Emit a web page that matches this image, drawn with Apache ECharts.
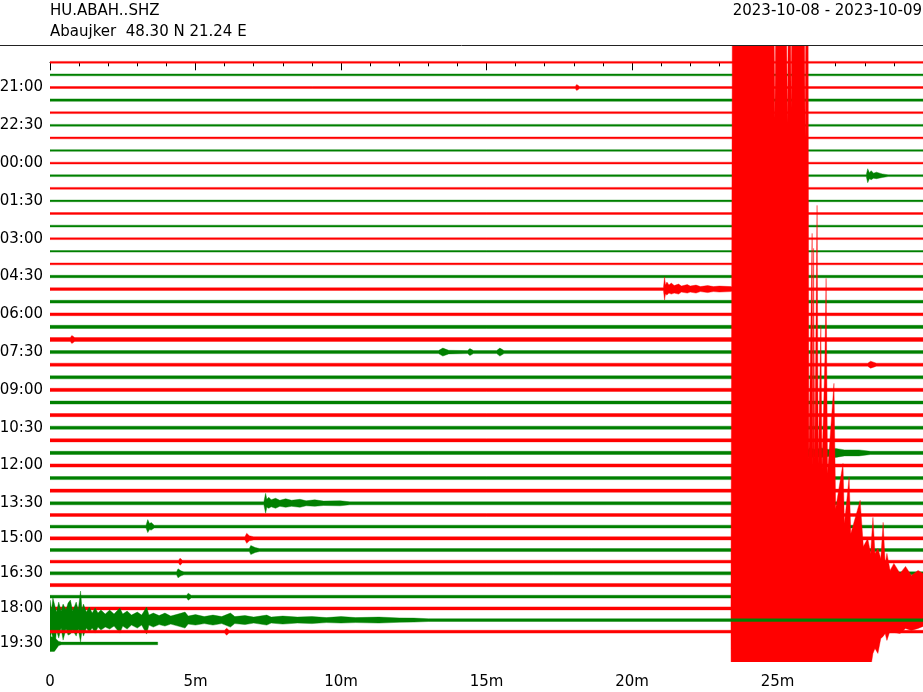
<!DOCTYPE html>
<html>
<head>
<meta charset="utf-8">
<script src="https://cdn.jsdelivr.net/npm/echarts@6/dist/echarts.min.js"></script>
<style>
html,body{margin:0;padding:0;background:#fff;}
#chart{width:923px;height:692px;}
</style>
</head>
<body>
<div id="chart"></div>
<script>
const stationLine1 = 'HU.ABAH..SHZ';
const stationLine2 = 'Abaujker  48.30 N 21.24 E';
const dateRange = '2023-10-08 - 2023-10-09';

// vertical level of each 30-minute trace (in trace-spacing units, as drawn)
const traceLevel = [0,1,2,3,4,5,6,7,8,9,10,11,12,13,14,15,16,17,18,19,20,21,22,23,24,25,26,27,28,29,30,31,32,33,34,35,
  35.93,36.85,37.78,38.71,39.63,40.56,41.49,42.41,43.34,44.27,45.19,46.12];

// background noise half-amplitude of each trace (amplitude units)
const noiseAmp = [0.9,0.9,1.0,1.2,0.9,0.9,0.9,0.8,0.9,0.9,0.9,0.8,0.9,0.9,0.9,0.8,0.9,1.2,1.3,1.4,1.4,1.6,1.9,1.5,
  1.5,1.5,1.6,1.5,1.6,1.5,1.6,1.6,1.6,1.5,1.6,1.5,1.5,1.4,1.6,1.5,1.4,1.5,1.6,1.4,1.5,1.4,1.4,1.3];

// minutes of data in each trace (last trace ends early)
const traceEnd = [30,30,30,30,30,30,30,30,30,30,30,30,30,30,30,30,30,30,30,30,30,30,30,30,
  30,30,30,30,30,30,30,30,30,30,30,30,30,30,30,30,30,30,30,30,30,30,30,3.7];

// y tick labels (which trace carries which time label)
const yTickTrace = [2,5,8,11,14,17,20,23,26,29,32,35,38,41,44,47];
const yTickLabels = ['21:00','22:30','00:00','01:30','03:00','04:30','06:00','07:30','09:00','10:30','12:00','13:30','15:00','16:30','18:00','19:30'];

// x tick labels every 5 minutes
const xTickLabels = ['0','5m','10m','15m','20m','25m',''];

// events: envelope points [minute, upward amplitude, downward amplitude]
const evQuake = [ // trace 44 (18:00) – large earthquake
  [23.40,1.5,1.5],[23.45,620,620],[24.87,620,620],[24.91,490,620],[24.95,620,620],
  [25.30,620,620],[25.34,485,620],[25.38,620,620],[25.44,620,620],[25.47,500,620],[25.50,620,620],
  [25.92,620,620],[25.95,470,620],[25.98,620,620],[26.05,620,620],
  [26.08,150,620],[26.19,375,620],[26.22,140,620],[26.24,360,620],[26.28,150,620],[26.36,403,620],
  [26.40,145,620],[26.49,283,620],[26.53,140,620],[26.63,251,620],[26.67,330,620],[26.72,135,620],
  [26.94,225,620],[27.00,100,620],[27.25,145,620],[27.30,85,620],[27.46,131,620],[27.52,75,620],
  [27.84,108,620],[27.95,62,620],[28.10,70,620],[28.20,55,60],[28.28,91,45],[28.35,55,40],
  [28.45,60,45],[28.55,50,30],[28.63,86,28],[28.70,45,25],[28.76,55,32],[28.87,38,22],
  [29.00,45,24],[29.21,35,25],[29.40,42,20],[29.60,33,22],[29.83,38,20],[30.00,35,18]
];
const evCoda = [ // trace 45 (18:30) – coda of the earthquake
  [0,20,20],[0.05,10,12],[0.10,22,18],[0.17,14,30],[0.22,8,10],[0.30,18,18],[0.38,9,8],[0.45,16,20],
  [0.55,10,9],[0.62,17,15],[0.70,20,14],[0.78,9,10],[0.90,18,16],[0.97,10,9],[1.05,29,22],[1.10,10,10],
  [1.15,16,16],[1.25,8,8],[1.35,13,12],[1.45,7,8],[1.55,12,13],[1.65,7,7],[1.75,10,10],[1.90,6,7],
  [2.05,10,9],[2.20,6,6],[2.40,12,13],[2.50,6,6],[2.65,9,9],[2.80,5,5],[3.00,8,8],[3.15,5,5],
  [3.32,13,14],[3.40,5,5],[3.55,7,7],[3.75,4.5,4.5],[3.95,7,6],[4.15,4,4],[4.40,6,6],[4.64,8,8],
  [4.75,4,4],[5.00,5.5,5],[5.30,3.5,3.5],[5.60,5,5],[5.90,3.5,3.5],[6.20,7,7],[6.35,3.5,3.5],
  [6.70,4.5,4.5],[7.00,3,3],[7.45,5,5],[7.60,3,3],[8.00,4,4],[8.50,3,3],[9.00,3.5,3.5],[9.50,2.5,2.5],
  [10.0,3.5,3],[10.5,2.5,2.5],[11.3,3,3],[12.0,2.2,2.2],[12.5,2,2],[13.0,1.4,1.4]
];
const traceEvents = {
  2:  [[18.05,1.0,1.0],[18.10,3,3],[18.20,1.0,1.0]],
  9:  [[28.05,0.9,0.9],[28.10,7,7],[28.16,3,3],[28.22,5,4],[28.30,2.5,2.5],[28.40,3.5,3],[28.60,1.8,1.8],[28.80,0.9,0.9]],
  18: [[21.08,1.3,1.3],[21.12,12,11],[21.15,4,5],[21.20,7,6],[21.27,4,4],[21.35,6,5],[21.45,3.5,4],[21.60,5,5],
       [21.70,3,3],[21.90,4.5,4],[22.00,3,3],[22.20,4,4],[22.35,2.5,2.5],[22.60,3.5,3.5],[22.80,2.5,2.5],
       [23.00,3,3],[23.40,2.5,2.5],[23.50,1.3,1.3]],
  22: [[0.70,1.9,1.9],[0.75,4,4],[0.85,1.9,1.9]],
  23: [[13.35,1.5,1.5],[13.50,4,4],[13.70,1.8,1.8],[14.35,1.5,1.5],[14.43,3.5,3.5],[14.55,1.5,1.5],
       [15.35,1.5,1.5],[15.46,4,4],[15.60,1.5,1.5]],
  24: [[28.10,1.5,1.5],[28.20,3.5,3.5],[28.40,1.5,1.5]],
  31: [[26.00,1.6,1.6],[26.10,5,5],[26.30,3.5,3.5],[26.50,5,4.5],[26.75,3.5,3.5],[27.00,4.5,4.5],[27.30,3,3],
       [27.80,3,3],[28.20,1.6,1.6]],
  35: [[7.35,1.5,1.5],[7.41,10,10],[7.45,4,4],[7.52,6,5],[7.60,3.5,3.5],[7.75,5,5],[7.90,3,3],[8.10,4.5,4],
       [8.30,3,3],[8.59,4,4],[8.80,2.5,2.5],[9.10,3.5,3],[9.40,2.2,2.2],[9.97,2.5,2.5],[10.3,1.5,1.5]],
  37: [[3.30,1.4,1.4],[3.36,7,6],[3.42,3,3],[3.48,4,3.5],[3.58,1.4,1.4]],
  38: [[6.70,1.6,1.6],[6.76,5,5],[6.85,2.5,2.5],[7.00,1.6,1.6]],
  39: [[6.85,1.5,1.5],[6.90,4.5,4.5],[7.05,2.5,2.5],[7.20,1.5,1.5]],
  40: [[4.42,1.4,1.4],[4.47,3.5,3.5],[4.55,1.4,1.4]],
  41: [[4.35,1.5,1.5],[4.40,4.5,4.5],[4.50,2.5,2.5],[4.60,1.5,1.5]],
  43: [[4.70,1.4,1.4],[4.75,3.5,3.5],[4.85,1.4,1.4]],
  44: evQuake,
  45: evCoda,
  46: [[6.00,1.4,1.4],[6.07,3.5,3.5],[6.15,1.4,1.4]],
  47: [[0,7,8],[0.15,6,8],[0.30,2,2],[0.40,1.3,1.3]]
};

// ---- drawing ----
const traceColors = ['#ff0000', '#008000'];
const ampScale = 1 / 12.6;   // amplitude units per trace spacing
const font = 'DejaVu Sans';

function envelope(i) {
  const n = noiseAmp[i];
  const ev = traceEvents[i] || [];
  const pts = [];
  if (!ev.length || ev[0][0] > 0) pts.push([0, n, n]);
  ev.forEach(p => pts.push(p));
  if (!ev.length || ev[ev.length - 1][0] < traceEnd[i]) pts.push([traceEnd[i], n, n]);
  return pts;
}

const chart = echarts.init(document.getElementById('chart'), null, {renderer: 'canvas'});
chart.setOption({
  animation: false,
  backgroundColor: '#fff',
  title: [
    {text: stationLine1 + '\n' + stationLine2, left: 45, top: -4,
     textStyle: {fontFamily: font, fontSize: 15, fontWeight: 'normal', color: '#000', lineHeight: 21}},
    {text: dateRange, right: -4, top: -4,
     textStyle: {fontFamily: font, fontSize: 15, fontWeight: 'normal', color: '#000', lineHeight: 21}}
  ],
  graphic: [{type: 'line', shape: {x1: 0, y1: 45.5, x2: 923, y2: 45.5}, style: {stroke: '#222', lineWidth: 1}, z: 100}],
  grid: {left: 50, right: 0, top: 45, bottom: 30, containLabel: false, outerBoundsMode: 'none'},
  xAxis: {
    type: 'value', min: 0, max: 30, interval: 5,
    axisLine: {show: true, lineStyle: {color: '#000', width: 1}},
    axisTick: {show: true, length: 8, lineStyle: {color: '#000'}},
    minorTick: {show: true, splitNumber: 5, length: 4, lineStyle: {color: '#000'}},
    splitLine: {show: false},
    axisLabel: {fontFamily: font, fontSize: 15, color: '#000', margin: 13,
      formatter: v => xTickLabels[Math.round(v / 5)] || ''}
  },
  yAxis: {
    type: 'value', inverse: true, min: -1.373, max: 47.595,
    axisLine: {show: false}, axisTick: {show: false}, splitLine: {show: false},
    axisLabel: {
      fontFamily: font, fontSize: 15, color: '#000', margin: 7,
      customValues: yTickTrace.map(i => traceLevel[i]),
      formatter: v => {
        for (let k = 0; k < yTickTrace.length; k++) {
          if (Math.abs(traceLevel[yTickTrace[k]] - v) < 1e-6) return yTickLabels[k];
        }
        return '';
      }
    }
  },
  series: [{
    type: 'custom',
    clip: true,
    data: traceLevel.map((lvl, i) => [0, lvl, i]),
    encode: {x: 0, y: 1},
    renderItem: function (params, api) {
      const i = params.dataIndex;
      const lvl = traceLevel[i];
      const pts = envelope(i);
      const up = pts.map(p => api.coord([p[0], lvl - p[1] * ampScale]));
      const lo = pts.slice().reverse().map(p => api.coord([p[0], lvl + p[2] * ampScale]));
      const col = traceColors[i % 2];
      return {
        type: 'polygon',
        shape: {points: up.concat(lo)},
        style: {fill: col, stroke: col, lineWidth: 0.4}
      };
    }
  }]
});
</script>
</body>
</html>
